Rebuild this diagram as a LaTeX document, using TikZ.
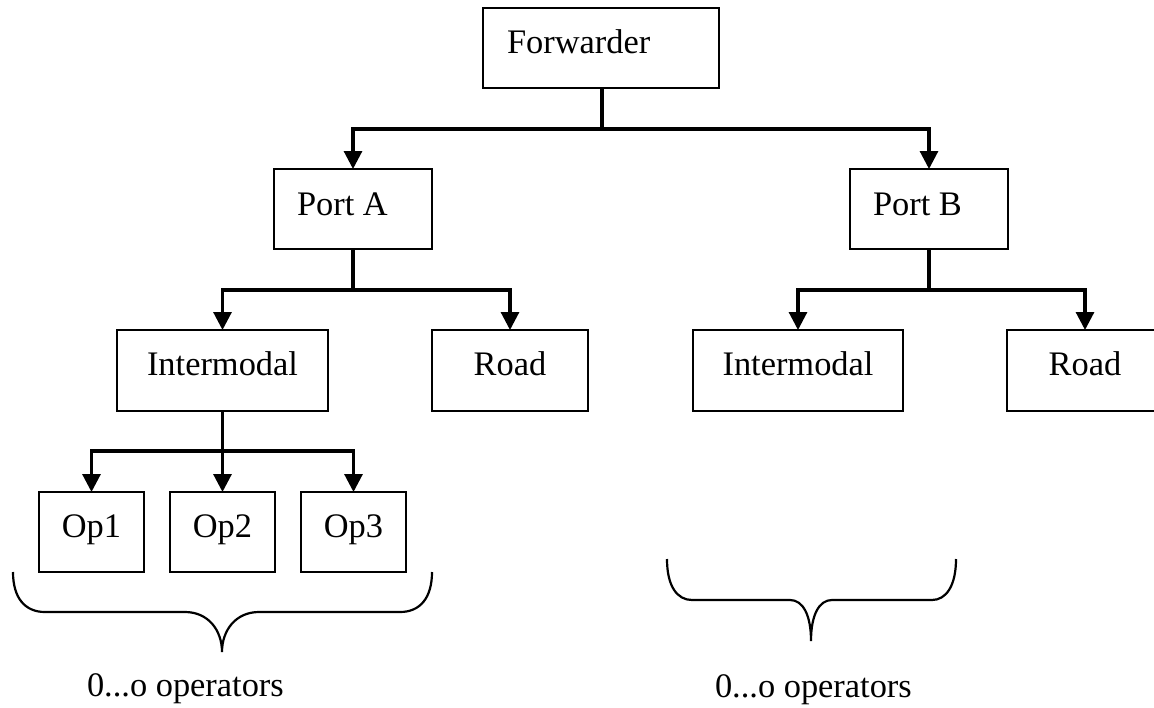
\documentclass[tikz,border=0pt]{standalone}
\usepackage{fontspec}
\setmainfont{Liberation Serif}
\usetikzlibrary{arrows.meta,calc}
\tikzset{
  box/.style={draw, line width=2.4pt, rectangle, inner sep=0pt, outer sep=0pt, anchor=north west},
  txt/.style={inner sep=0pt, outer sep=0pt},
  conn/.style={line width=3.1pt},
  arr/.style={line width=3.1pt, -{Triangle[length=18pt,width=18pt]}},
  brace/.style={line width=2.2pt}
}
\begin{document}
\begin{tikzpicture}[x=1pt,y=-1pt,font=\fontsize{34.4pt}{41pt}\selectfont]
\useasboundingbox (0,0) rectangle (1154,707);
\clip (0,0) rectangle (1154,707);
% boxes
\node[box, minimum width=236pt, minimum height=80pt] (fw) at (483,8) {};
\node[box, minimum width=158pt, minimum height=80pt] (pa) at (274,169) {};
\node[box, minimum width=158pt, minimum height=80pt] (pb) at (850,169) {};
\node[box, minimum width=211pt, minimum height=81pt] (ia) at (117,330) {};
\node[box, minimum width=156pt, minimum height=81pt] (ra) at (432,330) {};
\node[box, minimum width=210pt, minimum height=81pt] (ib) at (693,330) {};
\node[box, minimum width=156pt, minimum height=81pt] (rb) at (1007,330) {};
\node[box, minimum width=105pt, minimum height=80pt] (o1) at (39,492) {};
\node[box, minimum width=105pt, minimum height=80pt] (o2) at (170,492) {};
\node[box, minimum width=105pt, minimum height=80pt] (o3) at (301,492) {};
% texts
\node[txt, anchor=base west] (tfw) at ($(fw.north west)+(24,45)$) {Forwarder};
\node[txt, anchor=base west] (tpa) at ($(pa.north west)+(23,46)$) {Port A};
\node[txt, anchor=base west] (tpb) at ($(pb.north west)+(23,46)$) {Port B};
\node[txt, anchor=base] (tia) at ($(ia.north)+(0,45)$) {Intermodal};
\node[txt, anchor=base] (tra) at ($(ra.north)+(0,45)$) {Road};
\node[txt, anchor=base] (tib) at ($(ib.north)+(0,45)$) {Intermodal};
\node[txt, anchor=base] (trb) at ($(rb.north)+(0,45)$) {Road};
\node[txt, anchor=base] (to1) at ($(o1.north)+(0,45)$) {Op1};
\node[txt, anchor=base] (to2) at ($(o2.north)+(0,45)$) {Op2};
\node[txt, anchor=base] (to3) at ($(o3.north)+(0,45)$) {Op3};
% junctions
\coordinate (j1) at (602,129);
\coordinate (j2) at (353,290);
\coordinate (j3) at (929,290);
\coordinate (j4) at (222.5,451);
% connectors
\draw[conn] (j1 |- fw.south) -- (j1);
\draw[arr] (j1) -| (pa.north);
\draw[arr] (j1) -| (pb.north);
\draw[conn] (pa.south) -- (j2);
\draw[arr] (j2) -| (ia.north);
\draw[arr] (j2) -| (ra.north);
\draw[conn] (pb.south) -- (j3);
\draw[arr] (j3) -| (ib.north);
\draw[arr] (j3) -| (rb.north);
\draw[conn] (ia.south) -- (j4);
\draw[arr] (j4) -| (o1.north);
\draw[arr] (j4) -- (o2.north);
\draw[arr] (j4) -| (o3.north);
% braces
\draw[brace] (13,572) .. controls (13,598) and (25,612) .. (45,612) -- (185,612)
  .. controls (208,612) and (222,630) .. (222,652)
  .. controls (222,630) and (236,612) .. (259,612) -- (400,612)
  .. controls (420,612) and (432,598) .. (432,572);
\draw[brace] (667,559) .. controls (667,586) and (677,600) .. (692,600) -- (790,600)
  .. controls (803,600) and (811,615) .. (811,641)
  .. controls (811,615) and (819,600) .. (832,600) -- (932,600)
  .. controls (946,600) and (956,586) .. (956,559);
% labels
\node[txt, anchor=base west] (l1) at (87,696) {0...o operators};
\node[txt, anchor=base west] (l2) at (715,697) {0...o operators};
\end{tikzpicture}
\end{document}
